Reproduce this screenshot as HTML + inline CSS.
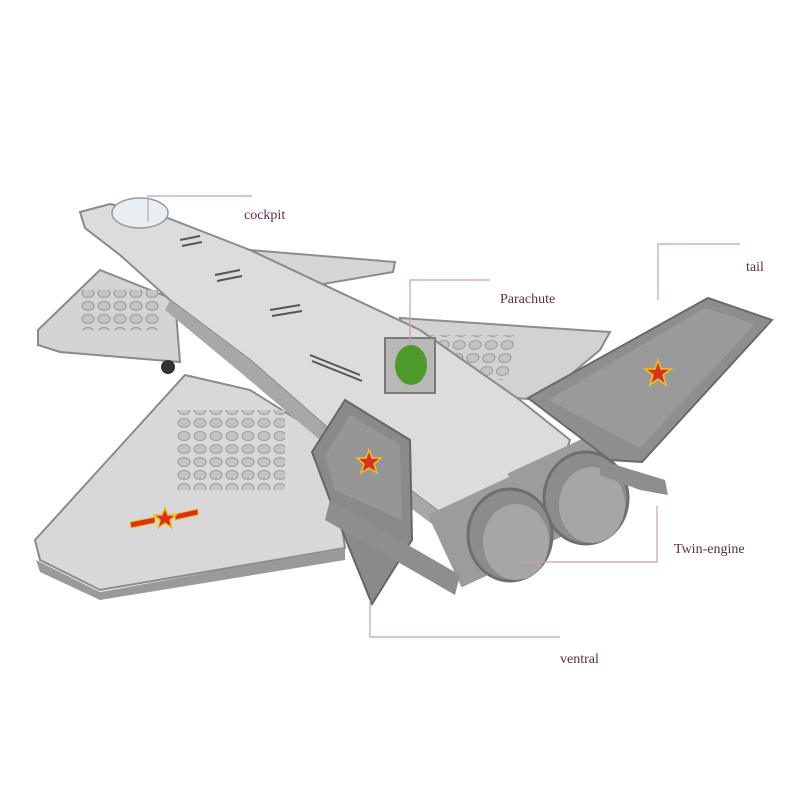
<!DOCTYPE html>
<html><head><style>
html,body{margin:0;padding:0;background:#fff;width:800px;height:800px;overflow:hidden}
svg{display:block}
text{font-family:"Liberation Serif",serif;fill:#5a2e45;font-size:14px}
</style></head><body>
<svg width="800" height="800" viewBox="0 0 800 800">
<defs>
<pattern id="studs" width="16" height="13" patternUnits="userSpaceOnUse">
<ellipse cx="8" cy="7" rx="6" ry="4.5" fill="#c4c4c4" stroke="#9a9a9a" stroke-width="1"/>
</pattern>
</defs>
<!-- right back wing -->
<polygon points="400,318 610,332 600,350 540,400 420,390" fill="#d2d2d2" stroke="#8c8c8c" stroke-width="2"/>
<rect x="455" y="335" width="120" height="45" fill="url(#studs)" transform="skewX(-10)"/>
<!-- right canard -->
<polygon points="225,248 395,262 393,272 300,288 250,285" fill="#d6d6d6" stroke="#8c8c8c" stroke-width="2"/>
<!-- left canard -->
<polygon points="38,330 100,270 175,300 180,362 60,352 38,345" fill="#d4d4d4" stroke="#8a8a8a" stroke-width="2"/>
<rect x="80" y="290" width="80" height="40" fill="url(#studs)"/>
<!-- left big wing -->
<polygon points="35,540 40,560 100,590 345,548 330,440 250,390 185,375" fill="#d8d8d8" stroke="#8a8a8a" stroke-width="2"/>
<polygon points="36,560 100,592 345,548 345,560 100,600 40,572" fill="#9a9a9a"/>
<rect x="175" y="410" width="110" height="80" fill="url(#studs)"/>
<!-- fuselage -->
<polygon points="80,212 110,204 160,215 250,250 420,330 520,400 570,440 560,470 450,520 330,430 250,360 170,300 120,255 85,228" fill="#dcdcdc" stroke="#8a8a8a" stroke-width="2"/>
<polygon points="170,300 250,360 330,430 450,520 440,530 320,440 240,372 165,310" fill="#a8a8a8"/>
<!-- vents -->
<g stroke="#555" stroke-width="2">
<line x1="180" y1="240" x2="200" y2="236"/><line x1="182" y1="246" x2="202" y2="242"/>
<line x1="215" y1="275" x2="240" y2="270"/><line x1="217" y1="281" x2="242" y2="276"/>
<line x1="270" y1="310" x2="300" y2="305"/><line x1="272" y1="316" x2="302" y2="311"/>
<line x1="310" y1="355" x2="360" y2="375"/><line x1="312" y1="361" x2="362" y2="381"/>
</g>
<!-- cockpit -->
<ellipse cx="140" cy="213" rx="28" ry="15" fill="#e8eef2" stroke="#9a9a9a" stroke-width="1.5"/>
<!-- wheel -->
<circle cx="168" cy="367" r="7" fill="#333"/>
<!-- parachute -->
<rect x="385" y="338" width="50" height="55" fill="#b8b8b8" stroke="#7a7a7a" stroke-width="2"/>
<ellipse cx="411" cy="365" rx="16" ry="20" fill="#4d9a2a"/>
<!-- engines -->
<g>
<rect x="520" y="450" width="95" height="80" fill="#9c9c9c" transform="rotate(-25 567 490)"/>
<ellipse cx="586" cy="498" rx="42" ry="46" fill="#8c8c8c" stroke="#6e6e6e" stroke-width="3"/>
<ellipse cx="592" cy="505" rx="33" ry="38" fill="#a6a6a6"/>
<rect x="440" y="490" width="100" height="80" fill="#9c9c9c" transform="rotate(-25 490 530)"/>
<ellipse cx="510" cy="535" rx="42" ry="46" fill="#8c8c8c" stroke="#6e6e6e" stroke-width="3"/>
<ellipse cx="516" cy="542" rx="33" ry="38" fill="#a6a6a6"/>
</g>
<!-- right tail fin -->
<polygon points="528,398 708,298 772,320 642,462 610,460" fill="#8e8e8e" stroke="#6a6a6a" stroke-width="2"/>
<polygon points="548,400 705,308 755,324 640,448" fill="#9a9a9a"/>
<polygon points="600,460 665,480 668,495 640,490 600,475" fill="#8e8e8e"/>
<!-- left tail fin -->
<polygon points="312,452 345,400 410,440 412,540 372,604 348,545 330,500" fill="#8a8a8a" stroke="#666" stroke-width="2"/>
<polygon points="325,455 350,415 400,445 402,520 335,490" fill="#969696"/>
<polygon points="330,500 460,575 455,595 325,520" fill="#8e8e8e"/>
<!-- stars -->
<polygon points="658,360 661,369 671,369 663,375 666,385 658,379 650,385 653,375 645,369 655,369" fill="#d8321c" stroke="#f0c020" stroke-width="1.5"/>
<polygon points="369,450 372,458 381,458 374,464 377,473 369,468 361,473 364,464 357,458 366,458" fill="#d8321c" stroke="#f0c020" stroke-width="1.5"/>
<polygon points="130,522 155,517 155,523 131,528" fill="#d8321c" stroke="#f0c020"/>
<polygon points="175,514 198,509 198,515 175,520" fill="#d8321c" stroke="#f0c020"/>
<polygon points="165,508 168,515 176,515 170,520 172,528 165,523 158,528 160,520 154,515 162,515" fill="#d8321c" stroke="#f0c020" stroke-width="1.5"/>
<!-- leader lines -->
<g stroke="#c9a0a8" stroke-width="1.2" fill="none">
<polyline points="148,222 148,196 252,196"/>
<polyline points="658,300 658,244 740,244"/>
<polyline points="410,345 410,280 490,280"/>
<polyline points="520,562 657,562 657,506"/>
<polyline points="370,600 370,637 560,637"/>
</g>
<text x="244" y="219">cockpit</text>
<text x="746" y="271">tail</text>
<text x="500" y="303">Parachute</text>
<text x="674" y="553">Twin-engine</text>
<text x="560" y="663">ventral</text>
</svg>
</body></html>
